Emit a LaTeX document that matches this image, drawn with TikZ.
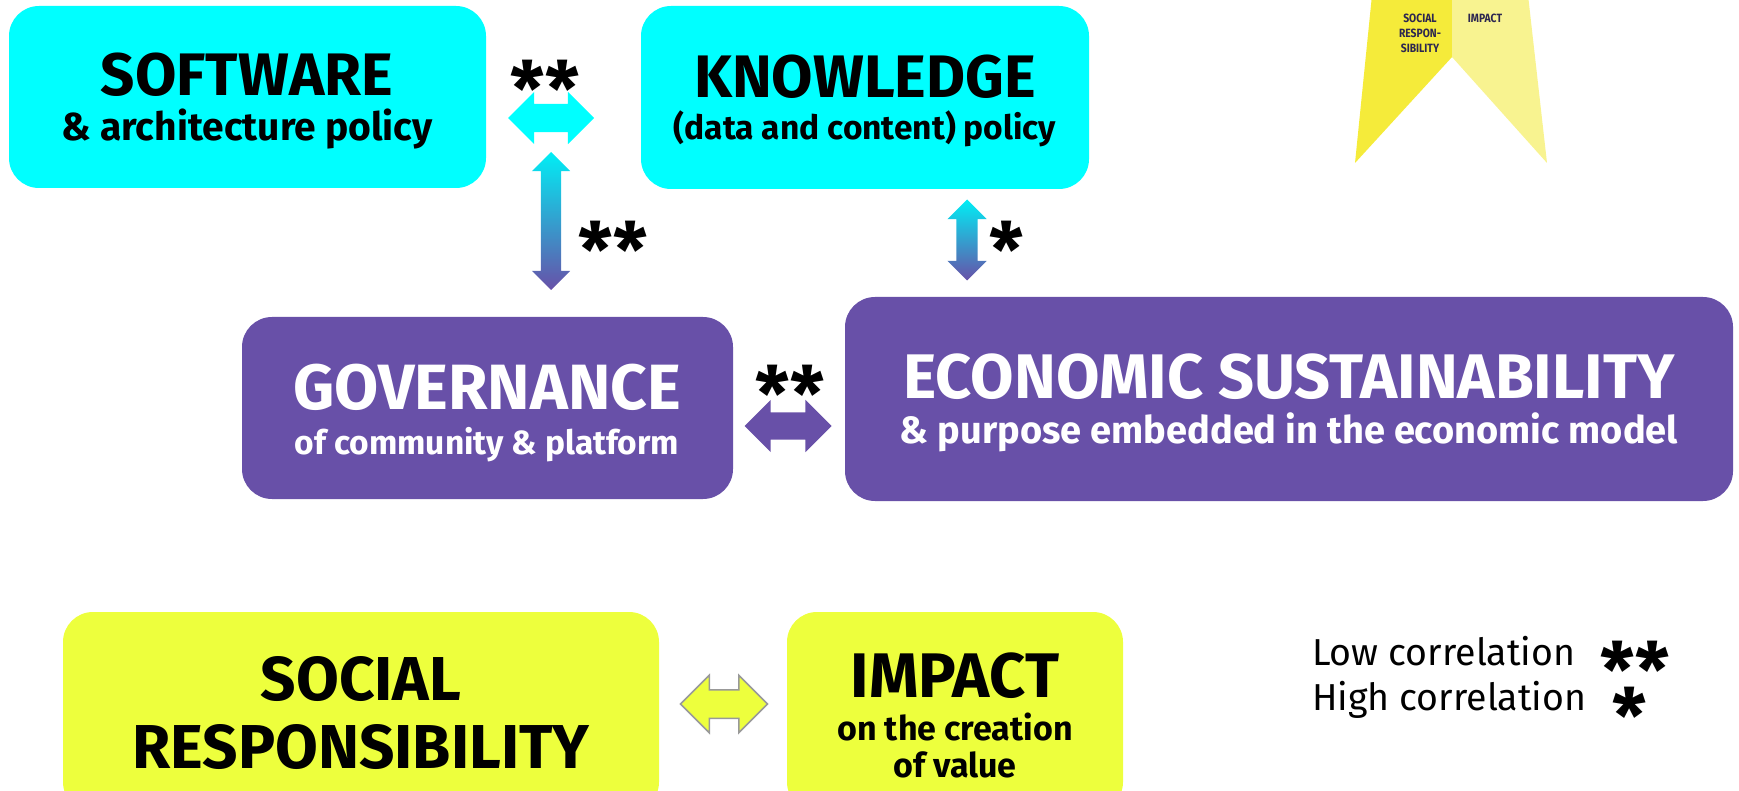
\documentclass[tikz,border=0pt]{standalone}
\usepackage{fontspec}
\setmainfont{Fira Sans}
\newfontfamily\narrowfont[FakeStretch=0.86]{Fira Sans}
\usetikzlibrary{shapes.arrows}

\definecolor{boxcyan}{HTML}{00FFFF}
\definecolor{boxpurple}{HTML}{6850A8}
\definecolor{boxyellow}{HTML}{EDFF3D}
\definecolor{tagyellow}{HTML}{F5EB3A}
\definecolor{taglight}{HTML}{F8F390}
\definecolor{tagtext}{HTML}{2D2750}
\definecolor{arrowtop}{HTML}{00EEF5}
\definecolor{arrowgray}{HTML}{999999}

\newcommand{\fsz}[1]{\fontsize{#1}{#1}\selectfont}
\newcommand{\starmark}[1]{\raisebox{-0.33em}[0.46em][0pt]{#1}}

\tikzset{
  areabox/.style={rectangle,rounded corners=30pt,inner sep=0pt},
  headline/.style={anchor=base,inner sep=0pt,font=\bfseries\fsz{60}},
  subline/.style={anchor=base,inner sep=0pt,font=\bfseries\fsz{34}},
  stars/.style={inner sep=0pt,font=\bfseries\fsz{76}},
  blockarrow/.style={double arrow,double arrow tip angle=90},
}

\begin{document}
\begin{tikzpicture}[x=1pt,y=-1pt]
\useasboundingbox (0,0) rectangle (1739,791);
\clip (0,0) rectangle (1739,791);

% areas
\node[areabox,fill=boxcyan,minimum width=477,minimum height=182] (soft) at (247.5,97) {};
\node[areabox,fill=boxcyan,minimum width=448,minimum height=183] (know) at (865,97.5) {};
\node[areabox,fill=boxpurple,minimum width=491,minimum height=182] (gov) at (487.5,408) {};
\node[areabox,fill=boxpurple,minimum width=888,minimum height=204] (econ) at (1289,399) {};
\node[areabox,fill=boxyellow,minimum width=596,minimum height=200] (social) at (361,712) {};
\node[areabox,fill=boxyellow,minimum width=336,minimum height=200] (impact) at (955,712) {};

% texts
\node[headline] (softT) at (247,96) {SOFTWARE};
\node[subline,font=\bfseries\fsz{39}] (softS) at (247,141) {\& architecture policy};
\node[headline] (knowT) at (865,98) {KNOWLEDGE};
\node[subline,font=\bfseries\fsz{33.5}] (knowS) at (865,140) {(data and content) policy};

\begin{scope}[every node/.style={text=white}]
\node[headline,font=\bfseries\fsz{64}] (govT) at (487,409) {GOVERNANCE};
\node[subline,font=\bfseries\fsz{33.5}] (govS) at (487,454) {of community \& platform};
\node[headline,font=\bfseries\fsz{63}] (econT) at (1289,398) {ECONOMIC SUSTAINABILITY};
\node[subline,font=\bfseries\fsz{38}] (econS) at (1289,443) {\& purpose embedded in the economic model};
\end{scope}

\node[headline,font=\bfseries\fsz{62}] (socT) at (361,700) {SOCIAL};
\node[headline,font=\bfseries\fsz{62}] (socT2) at (361,768) {RESPONSIBILITY};
\node[headline,font=\bfseries\fsz{63}] (impT) at (955,697) {IMPACT};
\node[subline] (impS) at (955,740) {on the creation};
\node[subline] (impS2) at (955,777) {of value};

% block arrows
\node[blockarrow,fill=boxcyan,inner sep=14,minimum height=86,minimum width=52,double arrow head extend=12] (cyanH) at (551,118) {};
\node[blockarrow,shape border rotate=90,top color=arrowtop,bottom color=boxpurple,inner sep=10,minimum height=138,minimum width=38,double arrow head extend=9] (cyanV) at (551,221) {};
\node[blockarrow,shape border rotate=90,top color=arrowtop,bottom color=boxpurple,inner sep=10.5,minimum height=81,minimum width=39,double arrow head extend=9] (knowV) at (967,240) {};
\node[blockarrow,fill=boxpurple,inner sep=13.5,minimum height=87,minimum width=52,double arrow head extend=12.5] (purpH) at (788,426) {};
\node[blockarrow,fill=boxyellow,draw=arrowgray,line width=1.5pt,inner sep=13.5,minimum height=87,minimum width=56,double arrow head extend=14.5] (yelH) at (724,704) {};

% correlation marks
\node[stars] (s1) at (545,74) {\starmark{**}};
\node[stars] (s2) at (613,235) {\starmark{**}};
\node[stars] (s3) at (1007,235) {\starmark{*}};
\node[stars] (s4) at (790,379) {\starmark{**}};

% legend
\node[anchor=base west,inner sep=0pt,font=\fsz{37.5}] (lowtxt) at (1312,665) {Low correlation};
\node[anchor=base west,inner sep=0pt,font=\fsz{37.5}] (hightxt) at (1312,710) {High correlation};
\node[stars] (lowstar) at (1635,655) {\starmark{**}};
\node[stars] (highstar) at (1630,701) {\starmark{*}};

% top right tag
\fill[tagyellow] (1372,-5) -- (1452,-5) -- (1452,57) -- (1355,163) -- cycle;
\fill[taglight] (1452,-5) -- (1528,-5) -- (1547,163) -- (1452,57) -- cycle;
\node[anchor=north,inner sep=0pt,align=center,text=tagtext,font=\narrowfont\bfseries\fontsize{12}{15}\selectfont] (tagsoc) at (1420,13.5) {SOCIAL\\RESPON-\\SIBILITY};
\node[anchor=north,inner sep=0pt,text=tagtext,font=\narrowfont\bfseries\fontsize{12}{15}\selectfont] (tagimp) at (1485,13.5) {IMPACT};
\end{tikzpicture}
\end{document}
